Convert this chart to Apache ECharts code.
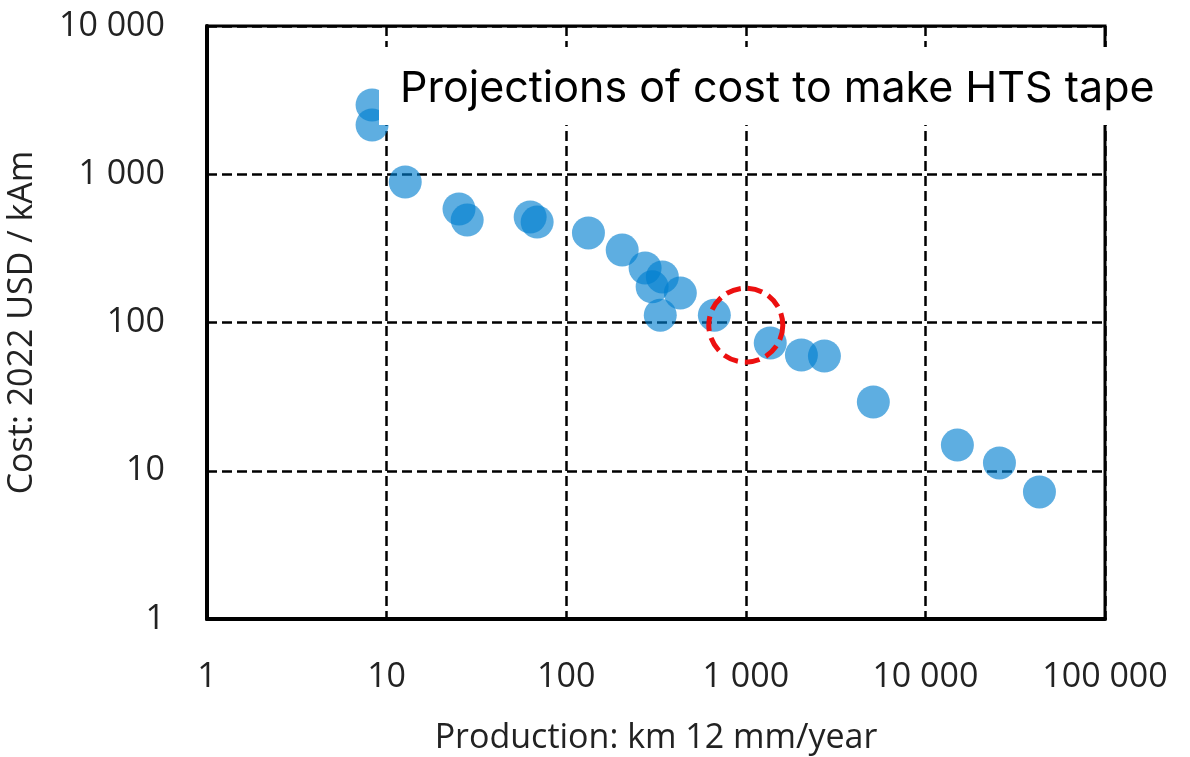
<!DOCTYPE html>
<html>
<head>
<meta charset="utf-8">
<script src="https://cdn.jsdelivr.net/npm/echarts@6/dist/echarts.min.js"></script>
<style>
html,body{margin:0;padding:0;background:#fff;}
#chart{width:1190px;height:757px;}
</style>
</head>
<body>
<div id="chart"></div>
<script>
// Production (km 12 mm/year) and cost (2022 USD / kAm) of each projection
const production = [8.3, 8.3, 12.7, 25.3, 28.1, 63.0, 68.9, 133, 205, 275, 343, 301, 432, 334, 668, 1368, 2040, 2740, 5130, 15070, 25840, 43150];
const cost = [2930, 2150, 887, 583, 491, 515, 476, 402, 308, 233, 203, 174, 158, 112, 112, 72.7, 60.4, 59.4, 29.1, 14.9, 11.3, 7.2];
// Highlighted target point (red dashed circle)
const highlightX = [1000];
const highlightY = [96];
const titleText = 'Projections of cost to make HTS tape';
const xName = 'Production: km 12 mm/year';
const yName = 'Cost: 2022 USD / kAm';

const points = production.map((x, i) => [x, cost[i]]);
const target = highlightX.map((x, i) => [x, highlightY[i]]);

function fmt(v) {
  return String(Math.round(v)).replace(/\B(?=(\d{3})+(?!\d))/g, ' ');
}

const chart = echarts.init(document.getElementById('chart'), null, {renderer: 'canvas'});
const labelFont = {fontFamily: 'Open Sans', fontSize: 34, color: '#222'};
chart.setOption({
  animation: false,
  backgroundColor: '#fff',
  grid: {left: 207, top: 26, width: 898, height: 593, show: true, borderColor: '#000', borderWidth: 3, backgroundColor: 'transparent', outerBoundsMode: 'none', containLabel: false},
  xAxis: {
    type: 'log', logBase: 10, min: 1, max: 100000, splitNumber: 5,
    name: xName, nameLocation: 'middle', nameGap: 102,
    nameTextStyle: {fontFamily: 'Open Sans', fontSize: 34, color: '#222'},
    axisLine: {show: true, lineStyle: {color: '#000', width: 4}},
    axisTick: {show: false},
    axisLabel: Object.assign({margin: 41, formatter: fmt}, labelFont),
    splitLine: {show: true, lineStyle: {color: '#000', width: 2.5, type: [10, 5]}}
  },
  yAxis: {
    type: 'log', logBase: 10, min: 1, max: 10000, splitNumber: 4,
    name: yName, nameLocation: 'middle', nameGap: 168,
    nameTextStyle: {fontFamily: 'Open Sans', fontSize: 34, color: '#222'},
    axisLine: {show: true, lineStyle: {color: '#000', width: 4}},
    axisTick: {show: false},
    axisLabel: Object.assign({margin: 42, formatter: fmt}, labelFont),
    splitLine: {show: true, lineStyle: {color: '#000', width: 2.5, type: [10, 5]}}
  },
  series: [
    {
      type: 'scatter', data: points, symbol: 'circle', symbolSize: 33,
      itemStyle: {color: 'rgb(0,127,207)', opacity: 0.63},
      z: 3
    },
    {
      type: 'scatter', data: target, symbol: 'circle', symbolSize: 74,
      itemStyle: {color: 'rgba(0,0,0,0)', borderColor: '#ec1010', borderWidth: 5, borderType: [15, 7], opacity: 1},
      z: 4, silent: true
    }
  ],
  graphic: [
    {type: 'rect', left: 379, top: 47, shape: {width: 811, height: 78}, style: {fill: '#fff'}, z: 100},
    {type: 'text', left: 400, top: 68, style: {text: titleText, font: '43px Inter', fill: '#000'}, z: 101}
  ]
});
</script>
</body>
</html>
